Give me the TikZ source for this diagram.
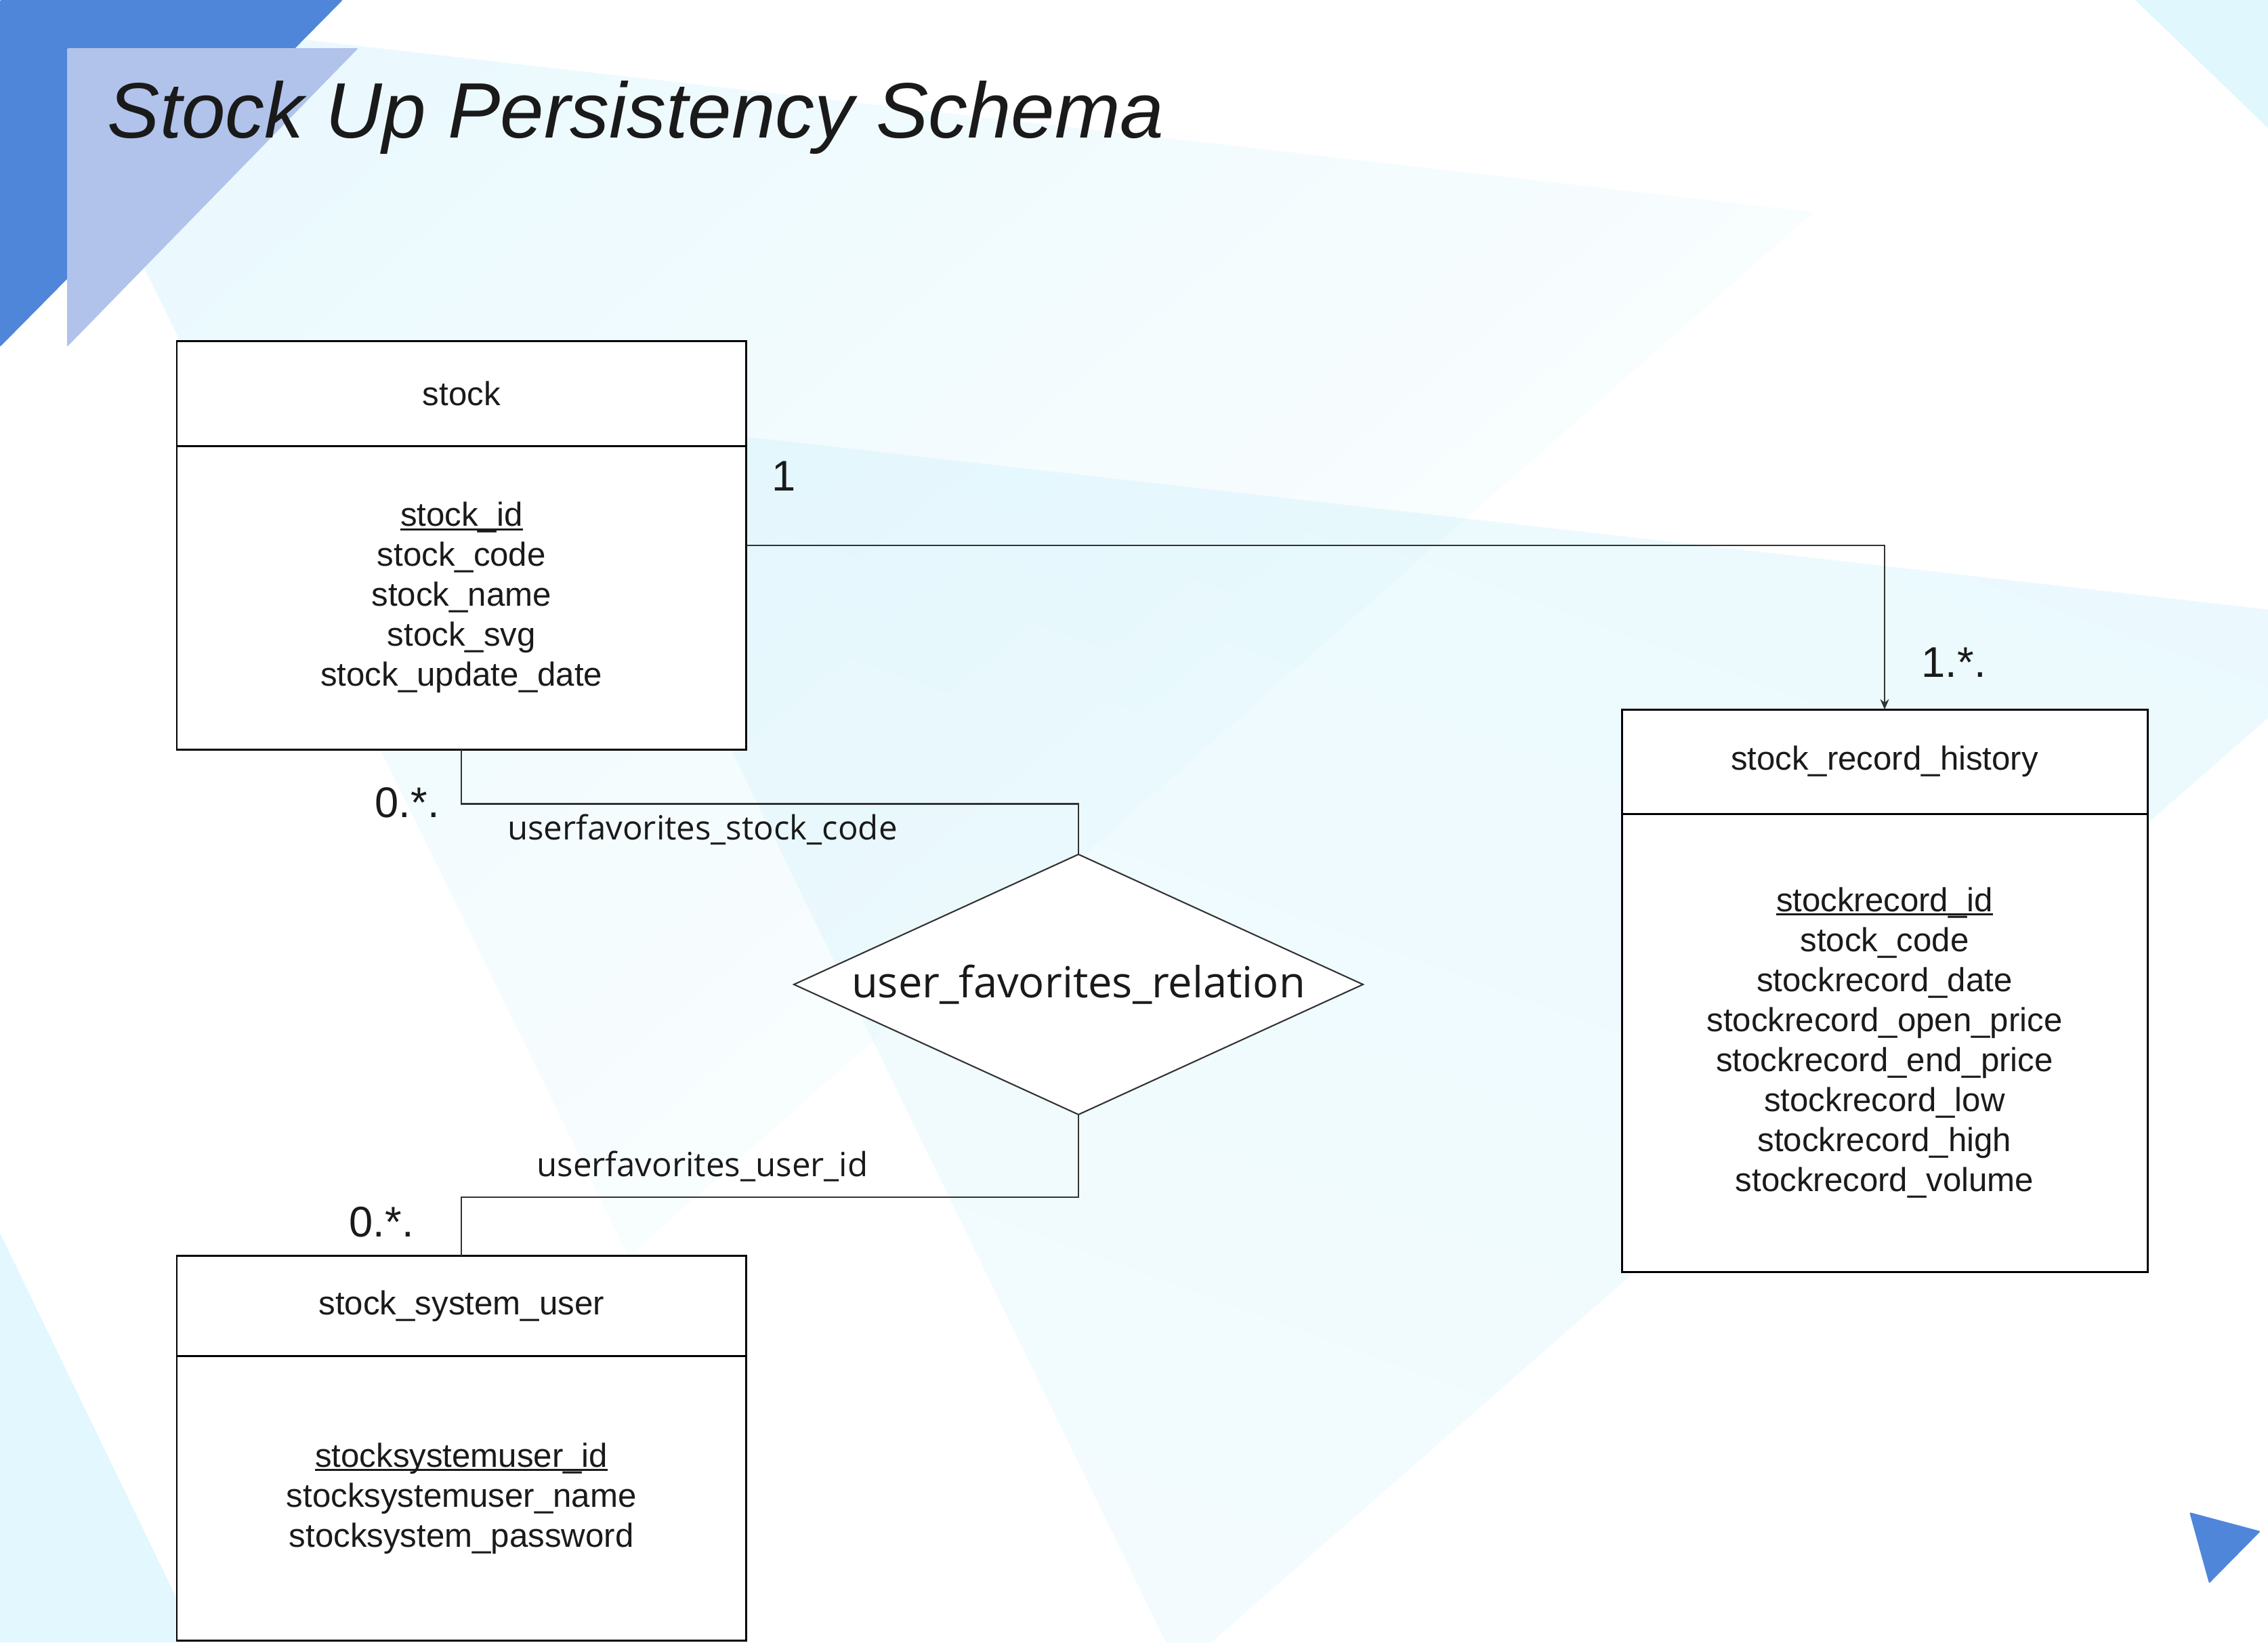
\documentclass[tikz,border=0pt]{standalone}
\usepackage{fontspec}
\setmainfont{Liberation Sans}
\newfontfamily\labelfont{Open Sans}
\usetikzlibrary{calc}
\usetikzlibrary{arrows.meta}
\usetikzlibrary{positioning}
\usetikzlibrary{shapes.geometric}

\definecolor{inkblack}{HTML}{1A1A1A}
\definecolor{linegray}{HTML}{333333}
\definecolor{cornerblue}{HTML}{4F86DA}
\definecolor{paleblue}{HTML}{B1C3EA}
\definecolor{bgcyan}{RGB}{190,238,252}

% primary key: underline close to the baseline
\newcommand{\pkey}[1]{\setbox0=\hbox{#1}\rlap{\rule[-1.7pt]{\wd0}{0.8pt}}\box0}

\begin{document}
\begin{tikzpicture}[x=1cm,y=-1cm,
    enthead/.style={draw=black,line width=0.85pt,fill=white,inner sep=0pt,outer sep=0pt,
      text=inkblack,font=\fontsize{14}{16.8}\selectfont},
    entbody/.style={enthead,align=center},
    relshape/.style={diamond,draw=linegray,line width=0.6pt,fill=white,aspect=2.1875,
      minimum width=8.4cm,minimum height=3.84cm,inner sep=0pt,outer sep=0pt,
      text=inkblack,font=\labelfont\fontsize{18}{21}\selectfont},
    link/.style={draw=linegray,line width=0.6pt},
    card/.style={anchor=base west,inner sep=0pt,text=inkblack,font=\fontsize{18}{21}\selectfont},
    role/.style={anchor=base,inner sep=0pt,text=inkblack,font=\labelfont\fontsize{14}{17}\selectfont}]

    \useasboundingbox (0,0) rectangle (33.48,24.24);

    % background
    \begin{scope}
        \clip (0,0) rectangle (33.48,24.24);
        \fill[white] (0,0) rectangle (33.48,24.24);
        \shade[opacity=0.3,left color=bgcyan,right color=white,shading angle=40]
            (0.24,0.10) -- (26.77,3.13) -- (9.28,18.54) -- cycle;
        \shade[opacity=0.3,left color=bgcyan,right color=bgcyan!55!white,shading angle=-20]
            (8.40,6.15) -- (35.10,9.18) -- (17.41,24.65) -- cycle;
        \fill[bgcyan!45!white] (0,18.20) -- (2.92,24.24) -- (0,24.24) -- cycle;
        \fill[bgcyan!50!white] (31.52,0) -- (33.48,0) -- (33.48,1.89) -- cycle;
        \fill[cornerblue,rounded corners=0.6pt] (0,0) -- (5.06,0) -- (0,5.12) -- cycle;
        \fill[paleblue,rounded corners=0.6pt] (0.99,0.71) -- (5.29,0.71) -- (0.99,5.12) -- cycle;
        \fill[cornerblue,rounded corners=0.6pt] (32.32,22.32) -- (33.37,22.60) -- (32.61,23.37) -- cycle;
    \end{scope}

    \node[anchor=base west,inner sep=0pt,text=inkblack,font=\itshape\fontsize{33}{40}\selectfont]
        (title) at (1.58,2.03) {Stock Up Persistency Schema};

    % entities
    \node[enthead,minimum width=8.405cm,minimum height=1.55cm] (stockhead) at (6.8125,5.805) {stock};
    \node[entbody,minimum width=8.405cm,minimum height=4.48cm,below=0pt of stockhead] (stockbody)
        {\pkey{stock\_id}\\stock\_code\\stock\_name\\stock\_svg\\stock\_update\_date};

    \node[enthead,minimum width=7.76cm,minimum height=1.54cm] (recordhead) at (27.82,11.24) {stock\_record\_history};
    \node[entbody,minimum width=7.76cm,minimum height=6.76cm,below=0pt of recordhead] (recordbody)
        {\pkey{stockrecord\_id}\\stock\_code\\stockrecord\_date\\stockrecord\_open\_price\\
         stockrecord\_end\_price\\stockrecord\_low\\stockrecord\_high\\stockrecord\_volume};

    \node[enthead,minimum width=8.405cm,minimum height=1.475cm] (userhead) at (6.8125,19.2725) {stock\_system\_user};
    \node[entbody,minimum width=8.405cm,minimum height=4.207cm,below=0pt of userhead] (userbody)
        {\pkey{stocksystemuser\_id}\\stocksystemuser\_name\\stocksystem\_password};

    \node[relshape] (favrel) at (15.92,14.53) {user\_favorites\_relation};

    % connectors
    \draw[link,-{Stealth[length=1.5mm,width=1.3mm]}] ([yshift=0.77cm]stockbody.east) -| (recordhead.north);
    \draw[link] (stockbody.south) -- ++(0,0.805) -| (favrel.north);
    \draw[link] (favrel.south) -- ++(0,1.22) -| (userhead.north);

    % multiplicities and role names
    \node[card] (onestock) at (11.39,7.24) {1};
    \node[card] (manyrecord) at (28.36,9.99) {1.*.};
    \node[card] (favstock) at (5.53,12.06) {0.*.};
    \node[card] (favuser) at (5.15,18.25) {0.*.};
    \node[role] (fkstock) at (10.37,12.39) {userfavorites\_stock\_code};
    \node[role] (fkuser) at (10.37,17.36) {userfavorites\_user\_id};
\end{tikzpicture}
\end{document}
